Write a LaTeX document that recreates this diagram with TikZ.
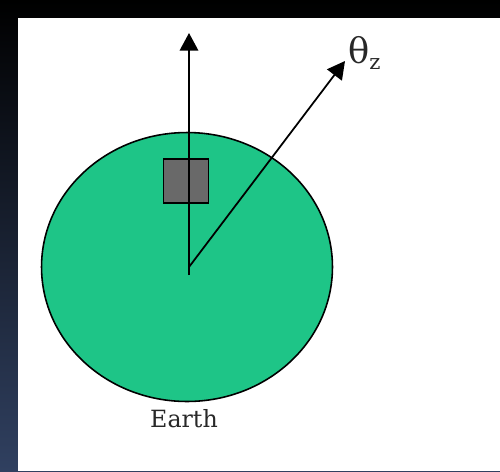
\documentclass[tikz,border=0pt]{standalone}
\usepackage{fontspec}
\setmainfont{DejaVu Serif}
\usepackage{tikz}
\usetikzlibrary{arrows.meta,shapes.geometric}
\usepackage{xcolor}
\definecolor{earthgreen}{RGB}{30,197,135}
\definecolor{boxgray}{RGB}{105,105,105}
\definecolor{slateblue}{RGB}{48,64,96}
\definecolor{inkgray}{RGB}{40,40,40}

\begin{document}
\begin{tikzpicture}[x=0.02cm, y=-0.02cm,
    axis/.style={line width=1pt, -{Triangle[length=10pt,width=10.5pt]}}]
    % Background
    \shade[top color=black, bottom color=slateblue] (0,0) rectangle (500,471);
    \fill[white] (18,18) rectangle (500,471);
    \useasboundingbox (0,0) rectangle (500,471);

    % Earth
    \node[draw, line width=0.9pt, fill=earthgreen, ellipse, inner sep=0pt,
          minimum width=5.82cm, minimum height=5.38cm] (earth) at (187,267) {};
    \node[font=\fontsize{13.5}{16}\selectfont, text=inkgray] (earthlabel) at (184,419) {Earth};

    % Detector
    \node[draw, line width=0.9pt, fill=boxgray, minimum width=0.9cm, minimum height=0.88cm, inner sep=0pt] (box) at (186,181) {};

    % Axes
    \coordinate (o) at (189,267);
    \coordinate (base) at (189,275);
    \coordinate (zenith) at (189,33);
    \coordinate (source) at (345,61);
    \draw[axis] (base) -- (zenith);
    \draw[axis] (o) -- (source);
    \node[anchor=west, inner sep=1pt, text=inkgray] (theta) at (346,53)
        {\fontsize{20}{22}\selectfont θ\raisebox{-0.35ex}{\fontsize{12}{14}\selectfont z}};
\end{tikzpicture}
\end{document}
